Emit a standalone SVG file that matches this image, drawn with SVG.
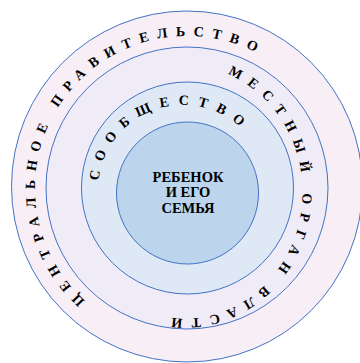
<svg xmlns="http://www.w3.org/2000/svg" width="360" height="363" viewBox="0 0 360 363">
  <style>
    .ring { stroke: #4472c4; stroke-width: 1; }
    .arc { font-family: "Liberation Serif", "Times New Roman", serif; font-weight: bold; font-size: 14px; fill: #000; text-anchor: middle; }
    .core { font-family: "Liberation Serif", "Times New Roman", serif; font-weight: bold; font-size: 14.5px; fill: #000; text-anchor: middle; }
  </style>
  <defs>
    <!-- baselines for the curved captions, all drawn clockwise -->
    <path id="p-outer" d="M 187 340 A 152 152 0 1 1 187 36 A 152 152 0 1 1 187 340"/>
    <path id="p-middle" d="M 67.5 192 A 117.5 126.5 0 1 1 302.5 192 A 117.5 126.5 0 1 1 67.5 192"/>
    <path id="p-inner" d="M 183 275 A 85 85 0 1 1 183 105 A 85 85 0 1 1 183 275"/>
  </defs>
  <rect width="360" height="363" fill="#ffffff"/>

  <g id="government">
    <circle class="ring" cx="187" cy="186.5" r="175.5" fill="#f7eef6"/>
    <text class="arc" letter-spacing="8.3"><textPath href="#p-outer" startOffset="334">ЦЕНТРАЛЬНОЕ ПРАВИТЕЛЬСТВО</textPath></text>
  </g>

  <g id="local-authority">
    <circle class="ring" cx="187" cy="188" r="141" fill="#efecf7"/>
    <text class="arc" letter-spacing="8.5"><textPath href="#p-middle" startOffset="416">МЕСТНЫЙ ОРГАН ВЛАСТИ</textPath></text>
  </g>

  <g id="community">
    <circle class="ring" cx="187.5" cy="188" r="106" fill="#dfe9f6"/>
    <text class="arc" letter-spacing="9"><textPath href="#p-inner" startOffset="240">СООБЩЕСТВО</textPath></text>
  </g>

  <g id="child-family">
    <circle class="ring" cx="187.5" cy="193" r="71" fill="#bcd5ed"/>
    <text class="core" x="188" y="181.7">РЕБЕНОК<tspan x="188" dy="15.5">И ЕГО</tspan><tspan x="188" dy="15.5">СЕМЬЯ</tspan></text>
  </g>
</svg>
